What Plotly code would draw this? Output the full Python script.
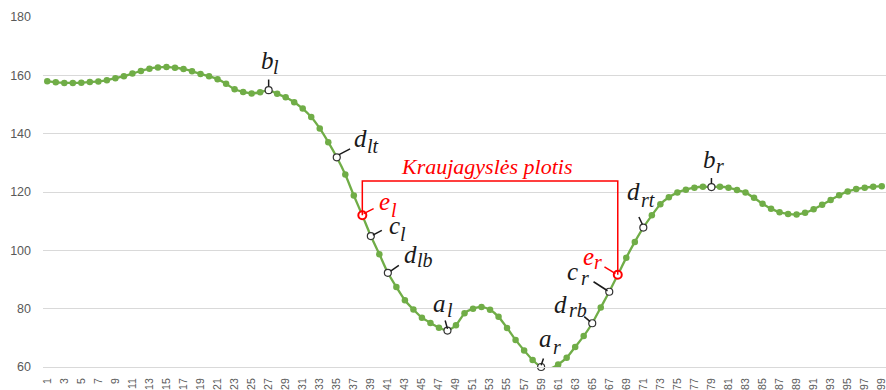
import plotly.graph_objects as go

# Vessel profile: sample index vs. intensity
sample = list(range(1, 100))
intensity = [
    158.0, 157.6, 157.4, 157.4, 157.5, 157.7, 157.9, 158.3, 159.0, 159.7,
    160.6, 161.5, 162.3, 162.7, 162.9, 162.6, 162.2, 161.4, 160.5, 159.7,
    158.7, 157.1, 155.2, 154.3, 153.8, 154.2, 154.9, 153.7, 152.5, 150.8,
    148.6, 145.7, 141.8, 137.1, 131.9, 126.0, 118.8, 112.0, 104.9, 98.7,
    92.3, 87.4, 82.9, 79.7, 76.9, 75.1, 73.5, 72.5, 74.3, 78.4,
    80.0, 80.6, 79.6, 77.2, 73.4, 69.3, 65.7, 62.4, 60.0, 59.4,
    60.9, 63.2, 66.9, 70.6, 75.0, 80.4, 85.8, 91.6, 97.5, 102.9,
    107.8, 112.0, 115.8, 118.2, 119.8, 120.8, 121.5, 121.8, 121.7, 121.8,
    121.5, 120.7, 119.8, 118.0, 116.0, 114.3, 113.1, 112.5, 112.3, 112.9,
    114.1, 115.6, 117.3, 118.9, 120.2, 121.0, 121.5, 121.8, 122.0,
]
x_ticks = list(range(1, 100, 2))

# Characteristic points: (main letter, subscript, sample index)
key_points = [
    ("b", "l", 27), ("d", "lt", 35), ("c", "l", 39), ("d", "lb", 41),
    ("a", "l", 48), ("a", "r", 59), ("d", "rb", 65), ("c", "r", 67),
    ("d", "rt", 71), ("b", "r", 79),
]
edge_points = [("e", "l", 38), ("e", "r", 68)]
width_label = "Kraujagyslės plotis"
bracket_level = 123.8

# Label placement in pixels relative to the point:
# (main dx, main baseline up, sub dx, sub baseline up, leader x0, y0, x1, y1)
placement = {
    ("b", "l"): (-9, 21.4, 3.5, 16.4, 0, 4, 0, 10.7),
    ("d", "lt"): (16, 10, 29, 5, 2.3, 2.7, 13.3, 8.4),
    ("e", "l"): (15.5, 5, 27.5, -1, 1.3, 1.7, 11.3, 6.7),
    ("c", "l"): (17, 1.7, 28.5, -4.3, 2, 1, 11, 5.7),
    ("d", "lb"): (15, 9.6, 28.6, 5.6, 2.7, 1.6, 11, 7.3),
    ("a", "l"): (-15.5, 18.3, -1.4, 13.3, 0, 1.7, -2.3, 10),
    ("a", "r"): (-3.5, 20, 11, 13.4, 0, 1.7, 2.3, 8.4),
    ("d", "rb"): (-39.5, 10, -24.5, 6.6, -2, 1.6, -8, 6.6),
    ("c", "r"): (-43, 11.7, -29.5, 6.7, -1.7, 1, -15.7, 10),
    ("e", "r"): (-36, 10, -25, 5.7, -2.3, 1.3, -13.3, 8),
    ("d", "rt"): (-17.5, 27.3, -3.5, 21.3, -1, 3.3, -4.4, 10.6),
    ("b", "r"): (-9, 19, 3.8, 14, 0, 3.3, 0, 9),
}

GREEN = "#70AD47"
RED = "#FF0000"
INK = "#1a1a1a"
GRID = "#D9D9D9"
SERIF = "Liberation Serif"
MAIN_SIZE = 25
SUB_SIZE = 20

fig = go.Figure()

fig.add_trace(go.Scatter(
    x=sample, y=intensity, mode="lines+markers",
    line=dict(color=GREEN, width=2.3, shape="spline", smoothing=0.6),
    marker=dict(color=GREEN, size=6.5),
    cliponaxis=False, hoverinfo="skip", showlegend=False,
))

key_idx = [p[2] for p in key_points]
fig.add_trace(go.Scatter(
    x=key_idx, y=[intensity[i - 1] for i in key_idx], mode="markers",
    marker=dict(color="white", size=7, line=dict(color="#333333", width=1.2)),
    cliponaxis=False, hoverinfo="skip", showlegend=False,
))

# Width bracket between the two edge points
el, er = edge_points[0][2], edge_points[1][2]
fig.add_shape(
    type="path",
    path=(f"M {el},{intensity[el - 1]} L {el},{bracket_level} "
          f"L {er},{bracket_level} L {er},{intensity[er - 1]}"),
    xref="x", yref="y", line=dict(color=RED, width=1.5), layer="above",
)

edge_idx = [p[2] for p in edge_points]
fig.add_trace(go.Scatter(
    x=edge_idx, y=[intensity[i - 1] for i in edge_idx], mode="markers",
    marker=dict(color="white", size=8, line=dict(color=RED, width=2)),
    cliponaxis=False, hoverinfo="skip", showlegend=False,
))


def center_shift(baseline_up, size):
    # shift from baseline to middle of the text box (Liberation Serif metrics)
    return baseline_up + 0.3375 * size


for letter, sub, idx in key_points + edge_points:
    color = RED if letter == "e" else INK
    mdx, mup, sdx, sup, lx0, ly0, lx1, ly1 = placement[(letter, sub)]
    yv = intensity[idx - 1]
    fig.add_shape(
        type="line", xref="x", yref="y",
        xsizemode="pixel", ysizemode="pixel", xanchor=idx, yanchor=yv,
        x0=lx0, x1=lx1, y0=ly0, y1=ly1,
        line=dict(color=color, width=1.5), layer="above",
    )
    fig.add_annotation(
        x=idx, y=yv, text=f"<i>{letter}</i>", showarrow=False,
        xanchor="left", yanchor="middle", borderpad=0,
        xshift=mdx, yshift=center_shift(mup, MAIN_SIZE),
        font=dict(family=SERIF, size=MAIN_SIZE, color=color),
    )
    fig.add_annotation(
        x=idx, y=yv, text=f"<i>{sub}</i>", showarrow=False,
        xanchor="left", yanchor="middle", borderpad=0,
        xshift=sdx, yshift=center_shift(sup, SUB_SIZE),
        font=dict(family=SERIF, size=SUB_SIZE, color=color),
    )

fig.add_annotation(
    x=(el + er) / 2 - 0.3, y=bracket_level, text=f"<i>{width_label}</i>",
    showarrow=False, xanchor="center", yanchor="bottom", borderpad=0,
    yshift=1, font=dict(family=SERIF, size=22, color=RED),
)

fig.update_layout(
    width=886, height=390,
    margin=dict(l=43, r=0, t=17, b=23),
    paper_bgcolor="white", plot_bgcolor="white",
    showlegend=False,
    xaxis=dict(
        range=[0.5, 99.5], tickmode="array", tickvals=x_ticks,
        ticktext=[str(v) for v in x_ticks], tickangle=-90,
        tickfont=dict(family="Liberation Sans", size=10.5, color="#595959"),
        showgrid=False, zeroline=False, showline=True, linecolor=GRID,
        linewidth=1, ticks="", ticklen=0, ticklabelstandoff=6,
        ticklabeloverflow="allow", automargin=False,
    ),
    yaxis=dict(
        range=[60, 180], tickmode="array", tickvals=[60, 80, 100, 120, 140, 160, 180],
        tickfont=dict(family="Liberation Sans", size=12.5, color="#595959"),
        showgrid=True, gridcolor=GRID, gridwidth=1, zeroline=False,
        showline=False, ticks="", ticklabelstandoff=11,
    ),
)

fig.write_html("out.html")
